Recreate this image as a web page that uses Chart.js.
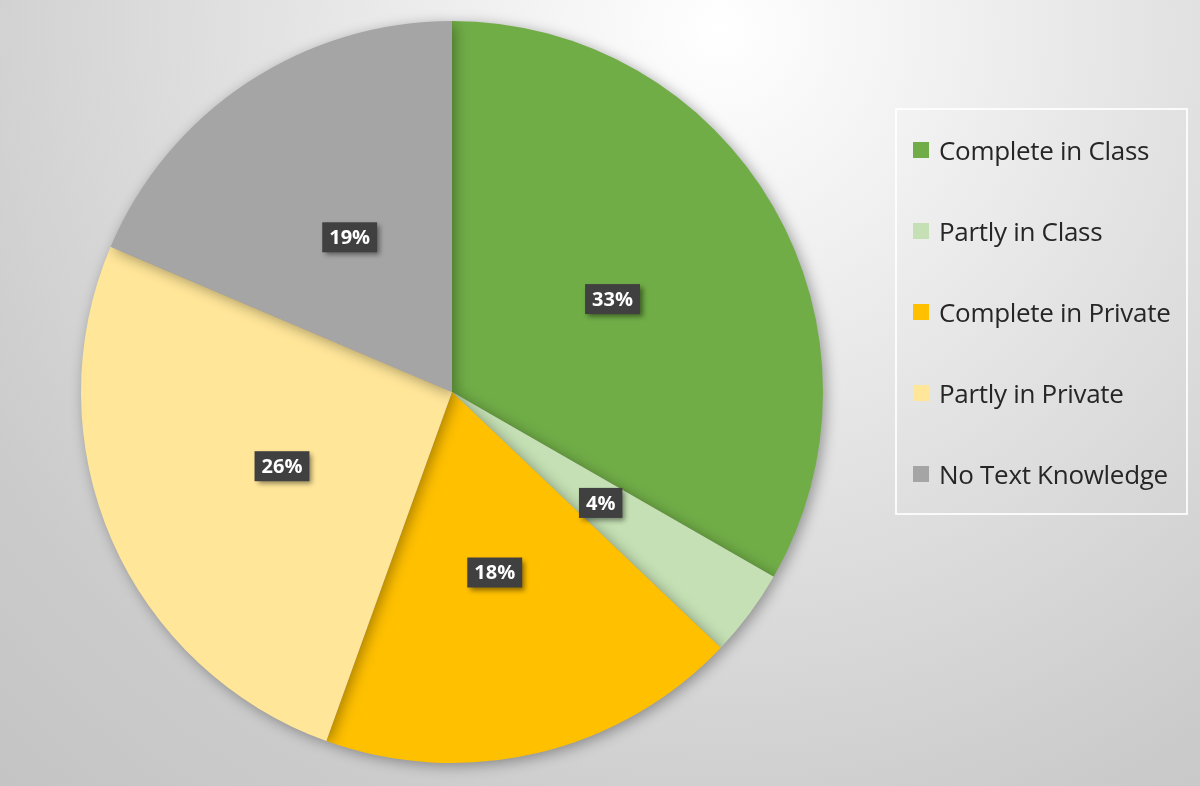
<!DOCTYPE html>
<html>
<head>
<meta charset="utf-8">
<script src="https://cdn.jsdelivr.net/npm/chart.js@4/dist/chart.umd.min.js"></script>
<style>
  html, body { margin: 0; padding: 0; }
  body {
    width: 1200px; height: 786px; position: relative; overflow: hidden;
    background: radial-gradient(circle at 720px 30px, #ffffff 0%, #f2f2f2 20%, #dedede 50%, #cbcbcb 80%, #c4c4c4 100%);
    font-family: "Open Sans", "Noto Sans", sans-serif;
  }
  #wrap { position: absolute; left: 0; top: 0; width: 1200px; height: 786px; }
  #legend {
    position: absolute; left: 895px; top: 108px; width: 293px; height: 407px;
    border: 2px solid rgba(255,255,255,0.85); box-sizing: border-box;
  }
  .item { position: absolute; left: 16px; height: 30px; display: flex; align-items: center; }
  .sw { width: 16px; height: 16px; margin-right: 10px; }
  .txt { font-size: 26px; color: #262626; white-space: nowrap; letter-spacing: -0.3px; }
</style>
</head>
<body>
<div id="wrap"><canvas id="myChart" width="1200" height="786"></canvas></div>
<div id="legend"></div>
<script>
const labels = ["Complete in Class", "Partly in Class", "Complete in Private", "Partly in Private", "No Text Knowledge"];
// shares in percent
const values = [33.3, 3.8, 18.4, 25.9, 18.6];
const colors = ["#70ad47", "#c5e0b4", "#ffc000", "#ffe699", "#a5a5a5"];

// legend (html)
const legend = document.getElementById("legend");
labels.forEach((name, i) => {
  const row = document.createElement("div");
  row.className = "item";
  row.style.top = (25 + i * 81) + "px";
  row.innerHTML = '<div class="sw" style="background:' + colors[i] + '"></div><div class="txt">' + name + '</div>';
  legend.appendChild(row);
});

// soft shadow under the pie
const pieShadow = {
  id: "pieShadow",
  beforeDatasetsDraw(chart) {
    const ctx = chart.ctx;
    ctx.save();
    ctx.shadowColor = "rgba(0,0,0,0.35)";
    ctx.shadowBlur = 14;
    ctx.shadowOffsetX = 3;
    ctx.shadowOffsetY = 3;
  },
  afterDatasetsDraw(chart) {
    chart.ctx.restore();
  }
};

// dark boxed percentage labels
const boxLabels = {
  id: "boxLabels",
  afterDatasetsDraw(chart) {
    const ctx = chart.ctx;
    const meta = chart.getDatasetMeta(0);
    const total = values.reduce((a, b) => a + b, 0);
    ctx.save();
    ctx.font = "bold 20px 'Open Sans', sans-serif";
    ctx.textAlign = "center";
    ctx.textBaseline = "middle";
    meta.data.forEach((arc, i) => {
      const p = arc.tooltipPosition();
      const text = Math.round(values[i] / total * 100) + "%";
      const w = ctx.measureText(text).width + 14;
      const h = 30;
      ctx.save();
      ctx.shadowColor = "rgba(0,0,0,0.45)";
      ctx.shadowBlur = 5;
      ctx.shadowOffsetX = 3;
      ctx.shadowOffsetY = 3;
      ctx.fillStyle = "#404040";
      ctx.fillRect(p.x - w / 2, p.y - h / 2, w, h);
      ctx.restore();
      ctx.fillStyle = "#ffffff";
      ctx.fillText(text, p.x, p.y + 1);
    });
    ctx.restore();
  }
};

new Chart("myChart", {
  type: "pie",
  data: {
    labels: labels,
    datasets: [
      {
        data: values,
        backgroundColor: colors,
        borderWidth: 0,
      },
    ],
  },
  options: {
    responsive: false,
    animation: false,
    layout: { padding: { left: 81, right: 377, top: 21, bottom: 23 } },
    plugins: {
      legend: { display: false },
      tooltip: { enabled: false },
    },
  },
  plugins: [pieShadow, boxLabels],
});
</script>
</body>
</html>
